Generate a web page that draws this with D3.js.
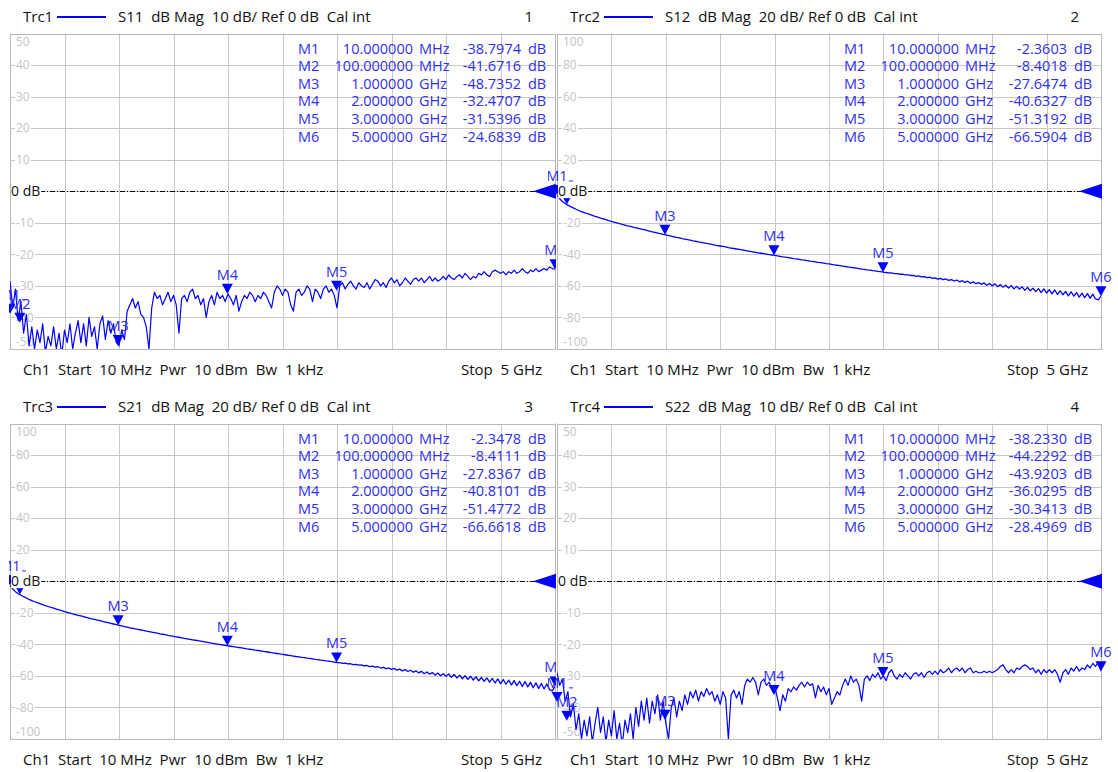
<!DOCTYPE html>
<html><head><meta charset="utf-8">
<script src="https://cdn.jsdelivr.net/npm/d3@7"></script>
<style>
body{margin:0;background:#fff;}
svg{display:block;font-family:"Open Sans",sans-serif;}
text{white-space:pre;}
</style></head><body>
<svg id="c" width="1118" height="772"></svg>
<script>
// ---------- data ----------
const traceNames = ["Trc1","Trc2","Trc3","Trc4"];
const sParams = ["S11","S12","S21","S22"];
const dbPerDiv = [10,20,20,10];
const windowNums = ["1","2","3","4"];
const sweepStartMHz = 10, sweepStopMHz = 5000;
const footerLeft = "Ch1  Start  10 MHz  Pwr  10 dBm  Bw  1 kHz";
const footerRight = "Stop  5 GHz";
const yTicks10 = [50,40,30,20,10,0,-10,-20,-30,-40,-50];
const yTicks20 = [100,80,60,40,20,0,-20,-40,-60,-80,-100];

const markerNames = ["M1","M2","M3","M4","M5","M6"];
const markerFreqMHz = [10,100,1000,2000,3000,5000];
const markerFreqText = ["10.000000","100.000000","1.000000","2.000000","3.000000","5.000000"];
const markerUnits = ["MHz","MHz","GHz","GHz","GHz","GHz"];
const markersS11 = [-38.7974,-41.6716,-48.7352,-32.4707,-31.5396,-24.6839];
const markersS12 = [-2.3603,-8.4018,-27.6474,-40.6327,-51.3192,-66.5904];
const markersS21 = [-2.3478,-8.4111,-27.8367,-40.8101,-51.4772,-66.6618];
const markersS22 = [-38.2330,-44.2292,-43.9203,-36.0295,-30.3413,-28.4969];

// trace values (dB) over the linear sweep 10 MHz .. 5 GHz
const traceS11 = [-28.5,-37,-31,-41,-35,-45,-39,-49,-43,-50,
 -44,-48,-42,-51,-46,-49,-43,-50,-45,-52,
 -44,-48,-42,-50,-45,-41,-48,-42,-49,-40,
 -46,-43,-50,-42,-39.5,-47,-41,-45,-42,-48,
 -49,-44,-47,-38,-36,-34,-37,-35,-39,-40,
 -43,-50,-37,-32,-34,-33,-36,-34,-32,-35,
 -33,-36,-45,-34,-33,-35,-32,-31,-34,-33,
 -36,-34,-40,-35,-33,-36,-32,-34,-33,-35,
 -32.5,-34,-36,-33,-38,-35,-33,-34,-32,-33,
 -35,-33,-34,-32,-33,-35,-37,-32,-30,-31,
 -33,-31,-32,-36,-38,-32,-31,-33,-32,-30,
 -31,-35,-31,-32,-34,-31,-30,-32,-31,-33,
 -37,-30,-29,-31,-29.5,-28.5,-30,-31,-29,-30,
 -30.5,-29,-31,-29.5,-28,-28.5,-30,-29,-30.5,-28.5,
 -27.5,-29,-28,-30,-29,-27.5,-28.5,-29.5,-28,-27.5,
 -28.5,-27.5,-29,-28,-27,-28.5,-27.5,-28.5,-28,-27,
 -28,-26.5,-27.5,-28,-27,-26.5,-27.5,-26,-27,-28,
 -27,-27.5,-26,-26.5,-25.5,-26.5,-27,-25.5,-25,-25.5,
 -26,-25.5,-26.5,-25.5,-26,-25,-26,-25.5,-24.5,-25.5,
 -26,-25,-25.5,-24.5,-25.5,-25,-24.5,-25,-24,-24.5,
 -24.7];
const traceS12 = [-2.4,-4.8,-6.5,-7.8,-8.8,-9.7,-10.5,-11.4,-12.2,-12.9,
 -13.5,-14.1,-14.7,-15.3,-15.9,-16.4,-17.0,-17.5,-18.0,-18.6,
 -19.1,-19.6,-20.0,-20.5,-21.0,-21.4,-21.9,-22.3,-22.8,-23.2,
 -23.6,-24.0,-24.4,-24.8,-25.3,-25.7,-26.1,-26.5,-26.9,-27.3,
 -27.7,-28.1,-28.5,-28.9,-29.3,-29.6,-30.0,-30.3,-30.7,-31.0,
 -31.4,-31.7,-32.1,-32.4,-32.7,-33.1,-33.4,-33.7,-34.1,-34.4,
 -34.7,-35.0,-35.3,-35.7,-36.0,-36.3,-36.6,-36.9,-37.2,-37.5,
 -37.8,-38.1,-38.4,-38.7,-39.0,-39.3,-39.6,-39.9,-40.2,-40.4,
 -40.7,-41.0,-41.3,-41.6,-41.8,-42.1,-42.4,-42.7,-42.9,-43.2,
 -43.5,-43.7,-44.0,-44.3,-44.5,-44.8,-45.1,-45.3,-45.6,-45.9,
 -46.1,-46.4,-46.7,-46.9,-47.2,-47.5,-47.7,-48.0,-48.2,-48.5,
 -48.7,-49.0,-49.3,-49.5,-49.8,-50.0,-50.3,-50.5,-50.8,-51.0,
 -51.3,-51.5,-51.8,-51.8,-52.2,-52.2,-52.6,-52.6,-53.0,-53.0,
 -53.4,-53.3,-53.9,-53.7,-54.3,-54.1,-54.8,-54.5,-55.2,-54.9,
 -55.7,-55.2,-56.1,-55.6,-56.5,-56.0,-56.9,-56.3,-57.4,-56.7,
 -57.8,-57.0,-58.3,-57.4,-58.6,-57.9,-59.0,-58.1,-59.6,-58.5,
 -59.9,-58.7,-60.5,-59.2,-60.8,-59.6,-61.4,-59.8,-61.9,-60.3,
 -62.0,-60.6,-62.8,-60.9,-63.1,-61.4,-63.6,-61.7,-64.2,-61.9,
 -64.5,-62.4,-65.0,-62.6,-65.4,-63.1,-65.6,-63.5,-66.3,-63.7,
 -66.5,-64.2,-67.1,-64.6,-67.4,-64.9,-67.8,-65.2,-68.3,-68.8,
 -66.6];
const traceS21 = [-2.3,-4.9,-6.6,-7.9,-8.9,-9.8,-10.6,-11.5,-12.3,-13.0,
 -13.6,-14.2,-14.8,-15.4,-16.0,-16.6,-17.1,-17.6,-18.2,-18.7,
 -19.2,-19.7,-20.2,-20.7,-21.1,-21.6,-22.0,-22.5,-22.9,-23.4,
 -23.8,-24.2,-24.6,-25.0,-25.5,-25.9,-26.3,-26.7,-27.1,-27.5,
 -27.9,-28.3,-28.7,-29.1,-29.5,-29.8,-30.2,-30.5,-30.9,-31.2,
 -31.6,-31.9,-32.3,-32.6,-32.9,-33.3,-33.6,-33.9,-34.3,-34.6,
 -34.9,-35.2,-35.5,-35.9,-36.2,-36.5,-36.8,-37.1,-37.4,-37.7,
 -38.0,-38.3,-38.6,-38.9,-39.2,-39.5,-39.8,-40.1,-40.4,-40.6,
 -40.9,-41.2,-41.5,-41.8,-42.0,-42.3,-42.6,-42.9,-43.1,-43.4,
 -43.7,-43.9,-44.2,-44.5,-44.7,-45.0,-45.3,-45.5,-45.8,-46.1,
 -46.3,-46.6,-46.9,-47.1,-47.4,-47.7,-47.9,-48.2,-48.4,-48.7,
 -48.9,-49.2,-49.5,-49.7,-50.0,-50.2,-50.5,-50.7,-51.0,-51.2,
 -51.5,-51.6,-52.0,-51.9,-52.4,-52.3,-52.8,-52.7,-53.2,-53.1,
 -53.6,-53.4,-54.1,-53.8,-54.5,-54.2,-55.0,-54.6,-55.4,-55.0,
 -55.9,-55.3,-56.3,-55.7,-56.8,-56.0,-57.2,-56.4,-57.7,-56.8,
 -58.1,-57.1,-58.6,-57.5,-58.9,-57.9,-59.5,-58.2,-59.9,-58.6,
 -60.3,-58.8,-60.9,-59.1,-61.3,-59.5,-61.8,-59.9,-62.2,-60.2,
 -62.6,-60.6,-63.1,-60.9,-63.5,-61.3,-64.0,-61.6,-64.5,-61.9,
 -64.9,-62.3,-65.3,-62.7,-65.8,-63.0,-66.2,-63.4,-66.7,-63.6,
 -67.0,-64.1,-67.5,-64.4,-67.9,-64.8,-68.3,-65.1,-68.7,-69.5,
 -66.7];
const traceS22 = [-29,-33,-31,-38,-35,-43,-39,-47,-42,-50,
 -44,-49,-43,-51,-45,-40,-48,-43,-51,-44,
 -49,-41,-50,-45,-52,-44,-48,-42,-50,-40,
 -46,-38,-44,-37,-45,-38,-42,-36,-44,-38,
 -45,-50,-40,-37,-43,-38,-41,-36,-39,-35,
 -37,-34.5,-38,-35,-36.5,-34,-36,-35,-38,-36,
 -39,-35,-37,-50,-36,-34.5,-37,-35,-39,-33,
 -31,-32,-30.5,-32,-36,-32,-31,-33,-32,-34,
 -33,-37,-41,-36,-38,-34,-35,-33.5,-34.5,-33,
 -32,-33.5,-32,-33,-32.5,-37,-33,-35,-33.5,-36,
 -34,-39,-37,-35,-36,-33,-31,-33,-30,-32,
 -31,-33,-38,-31,-30,-31.5,-29.5,-30.5,-29,-31,
 -30,-31.5,-29,-28,-30,-31,-29.5,-30.5,-29,-30,
 -31,-29.5,-29,-30,-29,-30.5,-29,-28.5,-29.5,-28.5,
 -29.5,-28,-29,-28.5,-27.5,-29,-28,-27.5,-28.5,-27.5,
 -29,-28,-27.5,-29,-28.5,-29,-29,-28.5,-29,-28.5,
 -29,-28.5,-28,-27,-26.5,-28,-29,-28,-29,-27.5,
 -28,-27,-26.5,-27,-28,-27.5,-29,-28,-29.5,-28,
 -29,-28,-29,-28,-29.5,-32,-29,-28,-29.5,-27.5,
 -28.5,-27,-28.5,-27.5,-28,-26.5,-27.5,-26,-27,-25.5,
 -28.5];

const traces = [traceS11, traceS12, traceS21, traceS22];
const markerVals = [markersS11, markersS12, markersS21, markersS22];

// ---------- layout (positions only) ----------
const layout = [
  {x0:10,  x1:555,  y0:33.5,  y1:349, hy:22,  fy:374.5, cl:9,   cr:556},
  {x0:557, x1:1101, y0:33.5,  y1:349, hy:22,  fy:374.5, cl:548, cr:1118},
  {x0:10,  x1:555,  y0:423.5, y1:739, hy:412, fy:764.5, cl:9,   cr:556},
  {x0:557, x1:1101, y0:423.5, y1:739, hy:412, fy:764.5, cl:548, cr:1118}
];

const BLUE = "#0000ff";
const MBLUE = "#2f2fee";
const GRID = "#c8c8c8";
const svg = d3.select("#c");
const defs = svg.append("defs");
const fmt = v => d3.format(".4f")(v).replace("\u2212", "-");

layout.forEach((L, k) => {
  const div = dbPerDiv[k];
  const ticks = div === 10 ? yTicks10 : yTicks20;
  const x = d3.scaleLinear().domain([sweepStartMHz, sweepStopMHz]).range([L.x0, L.x1]);
  const y = d3.scaleLinear().domain([-5*div, 5*div]).range([L.y1, L.y0]);
  const g = svg.append("g");

  defs.append("clipPath").attr("id","pc"+k).append("rect")
    .attr("x",L.x0).attr("y",L.y0).attr("width",L.x1-L.x0).attr("height",L.y1-L.y0);
  defs.append("clipPath").attr("id","wc"+k).append("rect")
    .attr("x",L.cl).attr("y",L.y0-30).attr("width",L.cr-L.cl).attr("height",L.y1-L.y0+30);

  // header
  g.append("text").attr("x",L.x0+13).attr("y",L.hy).attr("font-size",15).attr("fill","#111").text(traceNames[k]);
  g.append("line").attr("x1",L.x0+47).attr("x2",L.x0+96).attr("y1",L.hy-5).attr("y2",L.hy-5)
    .attr("stroke",BLUE).attr("stroke-width",2);
  g.append("text").attr("x",L.x0+108).attr("y",L.hy).attr("font-size",15).attr("fill","#111")
    .attr("xml:space","preserve")
    .text(`${sParams[k]}  dB Mag  ${div} dB/ Ref 0 dB  Cal int`);
  g.append("text").attr("x",L.x1-22).attr("y",L.hy).attr("font-size",15).attr("fill","#111")
    .attr("text-anchor","end").text(windowNums[k]);

  // footer
  g.append("text").attr("x",L.x0+13).attr("y",L.fy).attr("font-size",15).attr("fill","#111")
    .attr("xml:space","preserve").text(footerLeft);
  g.append("text").attr("x",L.x1-13).attr("y",L.fy).attr("font-size",15).attr("fill","#111")
    .attr("text-anchor","end").attr("xml:space","preserve").text(footerRight);

  // grid
  const xTicks = d3.range(0, 11).map(i => sweepStartMHz + i*(sweepStopMHz-sweepStartMHz)/10);
  g.append("g").selectAll("line").data(xTicks).join("line")
    .attr("x1", d => Math.round(x(d))+0.5).attr("x2", d => Math.round(x(d))+0.5)
    .attr("y1", L.y0).attr("y2", L.y1).attr("stroke", GRID).attr("stroke-width",1);
  g.append("g").selectAll("line").data(ticks).join("line")
    .attr("y1", d => Math.round(y(d))+0.5).attr("y2", d => Math.round(y(d))+0.5)
    .attr("x1", L.x0).attr("x2", L.x1).attr("stroke", GRID).attr("stroke-width",1);
  g.append("rect").attr("x",L.x0+0.5).attr("y",Math.round(L.y0)+0.5)
    .attr("width",L.x1-L.x0).attr("height",Math.round(L.y1)-Math.round(L.y0))
    .attr("fill","none").attr("stroke","#b8b8b8");

  // y labels
  const yl = g.append("g");
  ticks.forEach(t => {
    if (t === 0) return;
    let ty = y(t);
    if (t === ticks[0]) ty = L.y0 + 8;
    if (t === ticks[ticks.length-1]) ty = L.y1 - 7;
    const tg = yl.append("g");
    const tx = tg.append("text").attr("x", L.x0+6).attr("y", ty).attr("dy","0.35em")
      .attr("font-size",12).attr("fill","#c4c4c4").text(String(t));
    const bb = tx.node().getBBox();
    tg.insert("rect","text").attr("x",bb.x-1).attr("y",ty-4).attr("width",bb.width+2).attr("height",8)
      .attr("fill","#fff");
  });

  // reference line
  const yr = Math.round(y(0)) + 0.5;
  g.append("line").attr("x1",L.x0+30).attr("x2",L.x1-20).attr("y1",yr).attr("y2",yr)
    .attr("stroke","#000").attr("stroke-width",1).attr("stroke-dasharray","5,2,1,2");

  // trace
  const vals = traces[k];
  const n = vals.length;
  const line = d3.line()
    .x((d,i) => x(sweepStartMHz + i*(sweepStopMHz-sweepStartMHz)/(n-1)))
    .y(d => y(d));
  g.append("path").attr("clip-path",`url(#pc${k})`).attr("d", line(vals))
    .attr("fill","none").attr("stroke",BLUE).attr("stroke-width", (k===1||k===2)?1.3:1.2)
    .attr("stroke-linejoin","round");

  // reference label box (marker labels it hides are not drawn)
  const refBox = {x0:L.x0, x1:L.x0+34, y0:y(0)-10, y1:y(0)+10};

  // markers
  const mg = g.append("g").attr("clip-path",`url(#wc${k})`);
  markerNames.forEach((m,i) => {
    const mx = x(markerFreqMHz[i]), my = y(markerVals[k][i]);
    mg.append("path").attr("d",`M${mx},${my}L${mx-5.5},${my-10}L${mx+5.5},${my-10}Z`).attr("fill",BLUE);
    const cy = my - 18;
    const hidden = mx > refBox.x0 && mx < refBox.x1 && cy > refBox.y0 && cy < refBox.y1;
    if (!hidden) {
      mg.append("text").attr("x",mx).attr("y",my-14).attr("text-anchor","middle")
        .attr("font-size",14.5).attr("fill",MBLUE).text(m);
      if (i === 0) {
        mg.append("line").attr("x1",mx+12).attr("x2",mx+16).attr("y1",my-14).attr("y2",my-14)
          .attr("stroke",MBLUE).attr("stroke-width",1);
      }
    }
  });

  // ref label
  const rl = g.append("g");
  const rt = rl.append("text").attr("x",L.x0+1).attr("y",y(0)).attr("dy","0.35em")
    .attr("font-size",14).attr("fill","#111").text("0 dB");
  const rb = rt.node().getBBox();
  rl.insert("rect","text").attr("x",rb.x).attr("y",rb.y+2).attr("width",rb.width+1).attr("height",rb.height-4)
    .attr("fill","#fff");
  // ref arrow
  g.append("path").attr("clip-path",`url(#wc${k})`)
    .attr("d",`M${L.x1-22},${y(0)}L${L.x1+1},${y(0)-7.5}L${L.x1+1},${y(0)+7.5}Z`).attr("fill",BLUE);

  // marker table
  const tb = g.append("g").attr("font-size",14.5).attr("fill",MBLUE);
  markerNames.forEach((m,i) => {
    const by = L.y0 + 20 + i*17.6;
    tb.append("text").attr("x",L.x1-257).attr("y",by).text(m);
    tb.append("text").attr("x",L.x1-142).attr("y",by).attr("text-anchor","end").text(markerFreqText[i]);
    tb.append("text").attr("x",L.x1-136).attr("y",by).text(markerUnits[i]);
    tb.append("text").attr("x",L.x1-34).attr("y",by).attr("text-anchor","end").text(fmt(markerVals[k][i]));
    tb.append("text").attr("x",L.x1-27).attr("y",by).text("dB");
  });
});
</script>
</body></html>
